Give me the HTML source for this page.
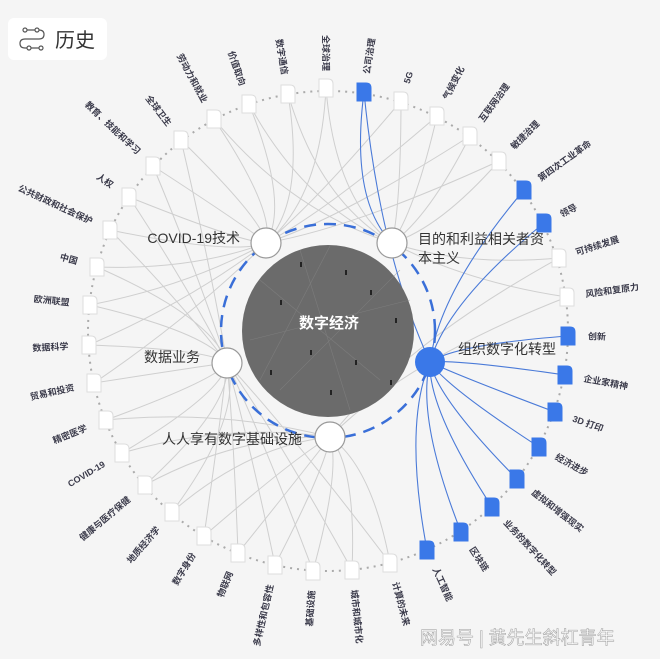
<!DOCTYPE html>
<html><head><meta charset="utf-8">
<style>
html,body{margin:0;padding:0;background:#f5f5f5;}
body{width:660px;height:659px;overflow:hidden;position:relative;font-family:"Liberation Sans","Noto Sans CJK SC",sans-serif;}
svg{position:absolute;left:0;top:0;}
.lab{font-size:9px;fill:#3a3a4a;font-weight:bold;}
.big{font-size:14px;fill:#333;}
</style></head>
<body>
<svg id="s" width="660" height="659" viewBox="0 0 660 659">
<rect width="660" height="659" fill="#f5f5f5"/>
<g id="lines"></g>
<circle cx="328" cy="331" r="240" fill="none" stroke="#aaa" stroke-width="2" stroke-dasharray="2 5"/>
<circle cx="328" cy="331" r="86" fill="#6b6b6b"/>
<g stroke="#888" stroke-width="0.6" opacity="0.6">
<line x1="260" y1="280" x2="380" y2="380"/><line x1="300" y1="250" x2="350" y2="410"/><line x1="250" y1="340" x2="410" y2="300"/><line x1="280" y1="390" x2="400" y2="270"/><line x1="330" y1="246" x2="260" y2="380"/>
</g>
<g fill="#222">
<rect x="300" y="262" width="2" height="5"/><rect x="345" y="270" width="2" height="5"/><rect x="280" y="300" width="2" height="5"/><rect x="370" y="290" width="2" height="5"/><rect x="310" y="350" width="2" height="5"/><rect x="355" y="360" width="2" height="5"/><rect x="270" y="370" width="2" height="5"/><rect x="390" y="380" width="2" height="5"/><rect x="330" y="390" width="2" height="5"/><rect x="395" y="318" width="2" height="5"/>
</g>
<text x="329" y="328" text-anchor="middle" font-size="15" font-weight="bold" fill="#fff">数字经济</text>
<circle cx="328" cy="331" r="107" fill="none" stroke="#3a6fd8" stroke-width="2.5" stroke-dasharray="12 8"/>
<g id="nodes"></g>
<g id="labels">
<text class="lab" id="l0">全球治理</text>
<text class="lab" id="l1">数字通信</text>
<text class="lab" id="l2">价值取向</text>
<text class="lab" id="l3">劳动力和就业</text>
<text class="lab" id="l4">全球卫生</text>
<text class="lab" id="l5">教育、技能和学习</text>
<text class="lab" id="l6">人权</text>
<text class="lab" id="l7">公共财政和社会保护</text>
<text class="lab" id="l8">中国</text>
<text class="lab" id="l9">欧洲联盟</text>
<text class="lab" id="l10">数据科学</text>
<text class="lab" id="l11">贸易和投资</text>
<text class="lab" id="l12">精密医学</text>
<text class="lab" id="l13">COVID-19</text>
<text class="lab" id="l14">健康与医疗保健</text>
<text class="lab" id="l15">地质经济学</text>
<text class="lab" id="l16">数字身份</text>
<text class="lab" id="l17">物联网</text>
<text class="lab" id="l18">多样性和包容性</text>
<text class="lab" id="l19">基础设施</text>
<text class="lab" id="l20">城市和城市化</text>
<text class="lab" id="l21">计算的未来</text>
<text class="lab" id="l22">人工智能</text>
<text class="lab" id="l23">区块链</text>
<text class="lab" id="l24">业务的数字化转型</text>
<text class="lab" id="l25">虚拟和增强现实</text>
<text class="lab" id="l26">经济进步</text>
<text class="lab" id="l27">3D 打印</text>
<text class="lab" id="l28">企业家精神</text>
<text class="lab" id="l29">创新</text>
<text class="lab" id="l30">风险和复原力</text>
<text class="lab" id="l31">可持续发展</text>
<text class="lab" id="l32">领导</text>
<text class="lab" id="l33">第四次工业革命</text>
<text class="lab" id="l34">敏捷治理</text>
<text class="lab" id="l35">互联网治理</text>
<text class="lab" id="l36">气候变化</text>
<text class="lab" id="l37">5G</text>
<text class="lab" id="l38">公司治理</text>
</g>
<circle cx="266" cy="243" r="15" fill="#fff" stroke="#999" stroke-width="1.2"/>
<circle cx="392" cy="243" r="15" fill="#fff" stroke="#999" stroke-width="1.2"/>
<circle cx="227" cy="363" r="15" fill="#fff" stroke="#999" stroke-width="1.2"/>
<circle cx="330" cy="437" r="15" fill="#fff" stroke="#999" stroke-width="1.2"/>
<circle cx="430" cy="362" r="15" fill="#3a78e8"/>
<text class="big" x="240" y="243" text-anchor="end">COVID-19技术</text>
<text class="big" x="418" y="244">目的和利益相关者资</text>
<text class="big" x="418" y="263">本主义</text>
<text class="big" x="200" y="362" text-anchor="end">数据业务</text>
<text class="big" x="302" y="444" text-anchor="end">人人享有数字基础设施</text>
<text class="big" x="458" y="354">组织数字化转型</text>
<rect x="8" y="18" width="99" height="42" rx="6" fill="#fff"/>
<g fill="none" stroke="#555" stroke-width="1.2">
<circle cx="25" cy="30" r="2"/><circle cx="37" cy="30" r="2"/><circle cx="41" cy="48" r="2"/><circle cx="29" cy="48" r="2"/>
<path d="M27 30 H35 M39 30 q5 0 5 4.5 q0 4.5 -5 4.5 H25 q-5 0 -5 4.5 q0 4.5 5 4.5 H27 M31 48 H39"/>
</g>
<text x="55" y="47" font-size="20" fill="#333">历史</text>
<text x="420" y="644" font-size="18" fill="#fff" stroke="#aaa" stroke-width="0.6">网易号 | 黄先生斜杠青年</text>
</svg>
<script>
var P=[[326,88,0],[288,94,0],[249,104,0],[214,119,0],[181,140,0],[153,166,0],[129,197,0],[110,230,0],[97,267,0],[90,305,0],[89,345,0],[94,383,0],[106,420,0],[122,453,0],[145,485,0],[172,512,0],[204,536,0],[238,553,0],[275,565,0],[313,571,0],[352,570,0],[390,563,0],[427,550,1],[461,532,1],[492,507,1],[517,479,1],[539,447,1],[555,412,1],[565,375,1],[568,336,1],[567,297,0],[559,258,0],[544,223,1],[524,190,1],[499,161,0],[470,136,0],[437,116,0],[401,101,0],[364,92,1]];
var I=[[266,243],[392,243],[227,363],[330,437]];
var cx=328,cy=331,NS="http://www.w3.org/2000/svg";
var L=document.getElementById('lines'),N=document.getElementById('nodes');
function path(d,c,w){var p=document.createElementNS(NS,'path');p.setAttribute('d',d);p.setAttribute('fill','none');p.setAttribute('stroke',c);p.setAttribute('stroke-width',w);L.appendChild(p);}
P.forEach(function(p,i){
 var x=p[0],y=p[1];
 if(p[2]){
  var t=[430,362];
  var mx=(x+t[0])/2,my=(y+t[1])/2;
  var qx=mx+(cx-mx)*0.25,qy=my+(cy-my)*0.25;
  path('M'+x+' '+y+' Q'+qx+' '+qy+' '+t[0]+' '+t[1],'#4a7ad8',1.1);
  if(i==38){path('M'+x+' '+y+' Q 350 200 392 243','#4a7ad8',1.1);}
 } else {
  var ds=I.map(function(q,k){return [Math.hypot(q[0]-x,q[1]-y),k];}).sort(function(a,b){return a[0]-b[0];});
  for(var j=0;j<2;j++){var q=I[ds[j][1]];
   var mx=(x+q[0])/2,my=(y+q[1])/2;
   var off=(j?-1:1)*18;
   var qx=mx+(cx-mx)*0.2+off,qy=my+(cy-my)*0.2;
   path('M'+x+' '+y+' Q'+qx+' '+qy+' '+q[0]+' '+q[1],'#cfcfcf',1);}
 }
 var g=document.createElementNS(NS,'path');
 g.setAttribute('d','M'+(x-7)+' '+(y-9)+' h9 q5 0 5 5 v13 h-14 z');
 g.setAttribute('fill',p[2]?'#3a78e8':'#fff');
 g.setAttribute('stroke',p[2]?'#3a78e8':'#ddd');
 g.setAttribute('stroke-width','1');
 N.appendChild(g);
 var a=Math.atan2(y-cy,x-cx),deg=a*180/Math.PI,R=260;
 var lx=cx+R*Math.cos(a),ly=cy+R*Math.sin(a);
 var t=document.getElementById('l'+i);
 t.setAttribute('x',lx);t.setAttribute('y',ly);t.setAttribute('dy','3');
 if(x<cx-1||(x<=cx&&i<20)){t.setAttribute('text-anchor','end');t.setAttribute('transform','rotate('+(deg+180)+' '+lx+' '+ly+')');}
 else{t.setAttribute('text-anchor','start');t.setAttribute('transform','rotate('+deg+' '+lx+' '+ly+')');}
});
</script>
</body></html>
